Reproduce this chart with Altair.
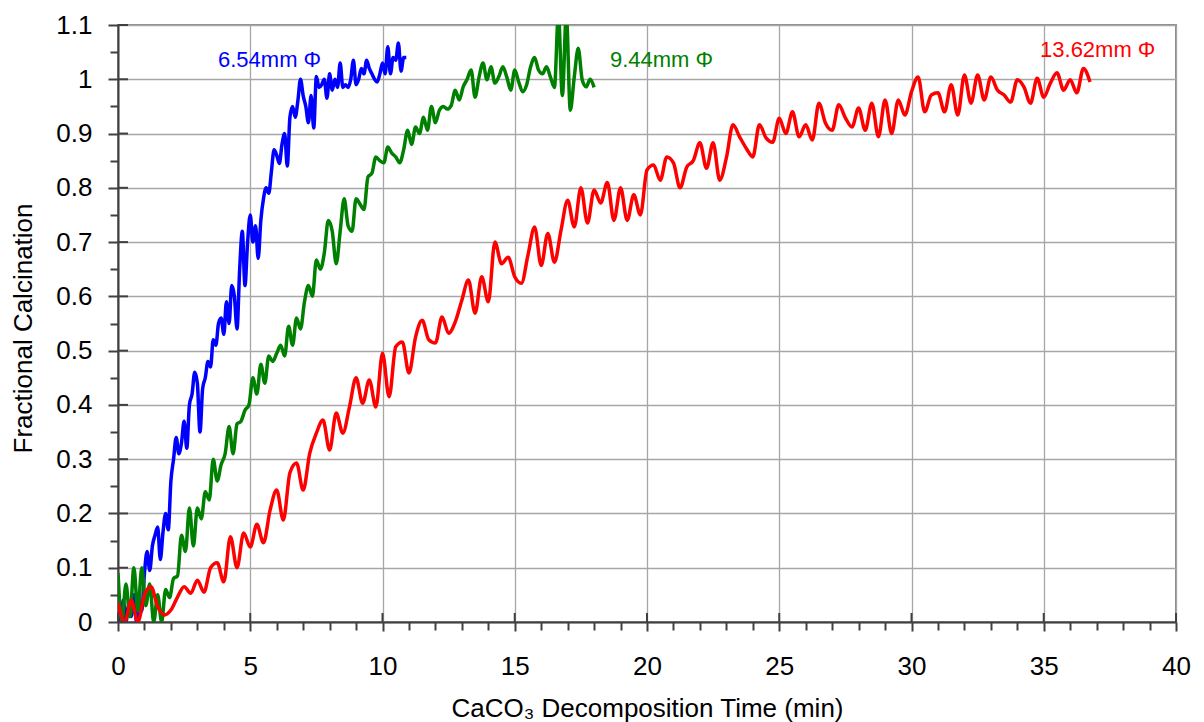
import altair as alt
import pandas as pd

# Sampling intervals (min) of the three calcination runs
STEP_654 = 0.10
STEP_944 = 0.15
STEP_1362 = 0.25

# Fractional calcination, 6.54 mm particle
calc_654 = [
    0.02, 0.0, 0.04, 0.0, 0.03, 0.01, 0.05, 0.0, 0.04, 0.02,
    0.09, 0.13, 0.095, 0.14, 0.16, 0.175, 0.115, 0.165, 0.20, 0.17,
    0.26, 0.30, 0.34, 0.31, 0.33, 0.37, 0.32, 0.40, 0.42, 0.46,
    0.44, 0.35, 0.43, 0.45, 0.48, 0.47, 0.52, 0.51, 0.55, 0.56,
    0.53, 0.59, 0.55, 0.62, 0.60, 0.54, 0.65, 0.72, 0.62, 0.70,
    0.75, 0.70, 0.73, 0.67, 0.74, 0.78, 0.80, 0.79, 0.83, 0.87,
    0.86, 0.845, 0.88, 0.90, 0.84, 0.93, 0.95, 0.93, 0.96, 1.00,
    0.97, 0.95, 0.92, 0.97, 0.91, 1.005, 0.985, 0.99, 1.0, 0.965,
    1.01, 0.98, 1.0, 0.985, 1.03, 0.985, 0.99, 0.985, 1.0, 1.035,
    0.99, 1.0, 1.02, 1.01, 1.035, 1.02, 1.01, 1.0, 0.995, 1.01,
    1.03, 1.01, 1.06, 1.01, 1.04, 1.035, 1.067, 1.015, 1.04, 1.04,
]

# Fractional calcination, 9.44 mm particle
calc_944 = [
    0.09, 0.0, 0.07, 0.01, 0.10, 0.02, 0.10, 0.03, 0.07, 0.0,
    0.05, 0.0, 0.06, 0.045, 0.08, 0.085, 0.16, 0.13, 0.21, 0.14,
    0.21, 0.19, 0.24, 0.225, 0.30, 0.26, 0.29, 0.31, 0.36, 0.31,
    0.365, 0.37, 0.39, 0.40, 0.45, 0.42, 0.475, 0.44, 0.49, 0.48,
    0.495, 0.51, 0.49, 0.545, 0.51, 0.56, 0.54, 0.59, 0.62, 0.60,
    0.667, 0.65, 0.68, 0.74, 0.72, 0.66, 0.72, 0.78, 0.73, 0.72,
    0.78, 0.77, 0.76, 0.82, 0.827, 0.857, 0.85, 0.846, 0.875, 0.864,
    0.857, 0.846, 0.87, 0.906, 0.88, 0.912, 0.90, 0.93, 0.906, 0.95,
    0.92, 0.943, 0.95, 0.945, 0.952, 0.98, 0.962, 0.986, 1.0, 1.017,
    0.967, 1.004, 1.03, 0.999, 1.023, 0.993, 1.005, 1.023, 1.004, 0.98,
    1.017, 0.995, 0.977, 0.99, 1.023, 1.04, 1.017, 1.01, 1.023, 1.004,
    0.985, 1.12, 0.97, 1.12, 0.943, 1.004, 1.057, 0.999, 0.986, 1.0,
    0.985,
]

# Fractional calcination, 13.62 mm particle
calc_1362 = [
    0.035, 0.0, 0.04, 0.0, 0.05, 0.065, 0.028, 0.013, 0.022, 0.046,
    0.065, 0.053, 0.077, 0.055, 0.10, 0.109, 0.074, 0.157, 0.10, 0.164,
    0.138, 0.18, 0.146, 0.206, 0.243, 0.188, 0.275, 0.293, 0.243, 0.311,
    0.348, 0.372, 0.317, 0.385, 0.348, 0.396, 0.45, 0.403, 0.446, 0.396,
    0.495, 0.415, 0.507, 0.516, 0.459, 0.525, 0.556, 0.52, 0.514, 0.562,
    0.532, 0.553, 0.593, 0.63, 0.569, 0.636, 0.59, 0.70, 0.66, 0.672,
    0.636, 0.624, 0.676, 0.728, 0.657, 0.716, 0.663, 0.722, 0.777, 0.728,
    0.80, 0.735, 0.796, 0.772, 0.81, 0.74, 0.80, 0.74, 0.787, 0.75,
    0.833, 0.842, 0.814, 0.857, 0.846, 0.80, 0.838, 0.85, 0.883, 0.836,
    0.883, 0.814, 0.855, 0.916, 0.894, 0.873, 0.857, 0.916, 0.892, 0.884,
    0.928, 0.90, 0.94, 0.894, 0.916, 0.888, 0.956, 0.919, 0.906, 0.953,
    0.929, 0.912, 0.947, 0.906, 0.956, 0.894, 0.962, 0.90, 0.962, 0.934,
    0.977, 1.004, 0.94, 0.971, 0.975, 0.94, 0.99, 0.934, 1.008, 0.956,
    1.008, 0.962, 1.004, 0.98, 0.971, 0.958, 0.999, 0.986, 0.956, 1.002,
    0.967, 0.993, 1.012, 0.98, 0.999, 0.975, 1.02, 0.995,
]

# Curve labels
label_text = ["6.54mm Φ", "9.44mm Φ", "13.62mm Φ"]
label_t = [3.78, 18.6, 34.86]
label_v = [1.035, 1.035, 1.054]
series_colors = ["#0000ff", "#008000", "#ff0000"]

# Axis tick positions (minor and major)
x_ticks = list(range(0, 41))
x_major = list(range(0, 41, 5))
y_ticks = [round(i * 0.05, 2) for i in range(23)]
y_major = [round(i * 0.1, 1) for i in range(12)]

FONT = "Liberation Sans"
AXIS_DARK = "#404040"
GRID = "#a6a6a6"


def series_frame(values, step):
    return pd.DataFrame(
        {"t": [round(i * step, 3) for i in range(len(values))], "v": values}
    )


x_scale = alt.Scale(domain=[0, 40], nice=False, zero=False)
y_scale = alt.Scale(domain=[0, 1.1], nice=False, zero=False)

x_axis = alt.Axis(
    values=x_ticks,
    title="CaCO₃ Decomposition Time (min)",
    labelExpr="datum.value % 5 === 0 ? datum.label : ''",
    labelFlush=False,
    labelOverlap=False,
    labelFont=FONT,
    labelFontSize=26,
    labelColor="black",
    labelPadding=22,
    tickColor=AXIS_DARK,
    tickWidth=2,
    tickSize={"condition": {"test": "datum.value % 5 === 0", "value": 9}, "value": 8},
    domainColor=AXIS_DARK,
    domainWidth=2,
    grid=True,
    gridColor=GRID,
    gridWidth=1.3,
    gridOpacity={"condition": {"test": "datum.value % 5 === 0", "value": 1}, "value": 0},
    titleFont=FONT,
    titleFontSize=26,
    titleFontWeight="normal",
    titleColor="black",
    titleX=529,
    titleY=94,
    titleBaseline="alphabetic",
)

y_axis = alt.Axis(
    values=y_ticks,
    title="Fractional Calcination",
    labelExpr="round(datum.value * 20) % 2 === 0 ? format(datum.value, '.1~f') : ''",
    labelFlush=False,
    labelOverlap=False,
    labelFont=FONT,
    labelFontSize=26,
    labelColor="black",
    labelPadding=16,
    tickColor=AXIS_DARK,
    tickWidth=2,
    tickSize={"condition": {"test": "round(datum.value * 20) % 2 === 0", "value": 10}, "value": 8},
    domainColor=AXIS_DARK,
    domainWidth=2,
    grid=True,
    gridColor=GRID,
    gridWidth=1.3,
    gridOpacity={"condition": {"test": "round(datum.value * 20) % 2 === 0", "value": 1}, "value": 0},
    titleFont=FONT,
    titleFontSize=26,
    titleFontWeight="normal",
    titleColor="black",
    titleX=-87,
    titleY=303,
    titleBaseline="alphabetic",
)

X = lambda field: alt.X(field, scale=x_scale, axis=x_axis)
Y = lambda field: alt.Y(field, scale=y_scale, axis=y_axis)


def curve(values, step, color):
    return (
        alt.Chart(series_frame(values, step))
        .mark_line(color=color, strokeWidth=3.5, interpolate="monotone", clip=True)
        .encode(x=X("t:Q"), y=Y("v:Q"))
    )


lines = [
    curve(calc_654, STEP_654, series_colors[0]),
    curve(calc_944, STEP_944, series_colors[1]),
    curve(calc_1362, STEP_1362, series_colors[2]),
]

labels = (
    alt.Chart(
        pd.DataFrame({"t": label_t, "v": label_v, "txt": label_text, "c": series_colors})
    )
    .mark_text(align="left", baseline="middle", font=FONT, fontSize=22)
    .encode(
        x=X("t:Q"),
        y=Y("v:Q"),
        text="txt:N",
        color=alt.Color("c:N", scale=None),
    )
)

# Inner half of the major ticks, drawn across the axis lines
y_inner = (
    alt.Chart(pd.DataFrame({"v": y_major}))
    .mark_rule(color=AXIS_DARK, strokeWidth=2)
    .encode(y=Y("v:Q"), x=alt.value(0), x2=alt.value(10))
)
x_inner = (
    alt.Chart(pd.DataFrame({"t": x_major}))
    .mark_rule(color=AXIS_DARK, strokeWidth=2)
    .encode(x=X("t:Q"), y=alt.value(588), y2=alt.value(597))
)

chart = (
    alt.layer(*lines, labels, y_inner, x_inner)
    .properties(
        width=1058,
        height=597,
        autosize=alt.AutoSizeParams(type="none"),
        padding={"left": 118, "top": 25, "right": 28, "bottom": 100},
        background="white",
    )
    .configure_view(stroke="#8c8c8c", strokeWidth=2)
)

chart.save("out.html", embed_options={"renderer": "svg", "actions": False})
